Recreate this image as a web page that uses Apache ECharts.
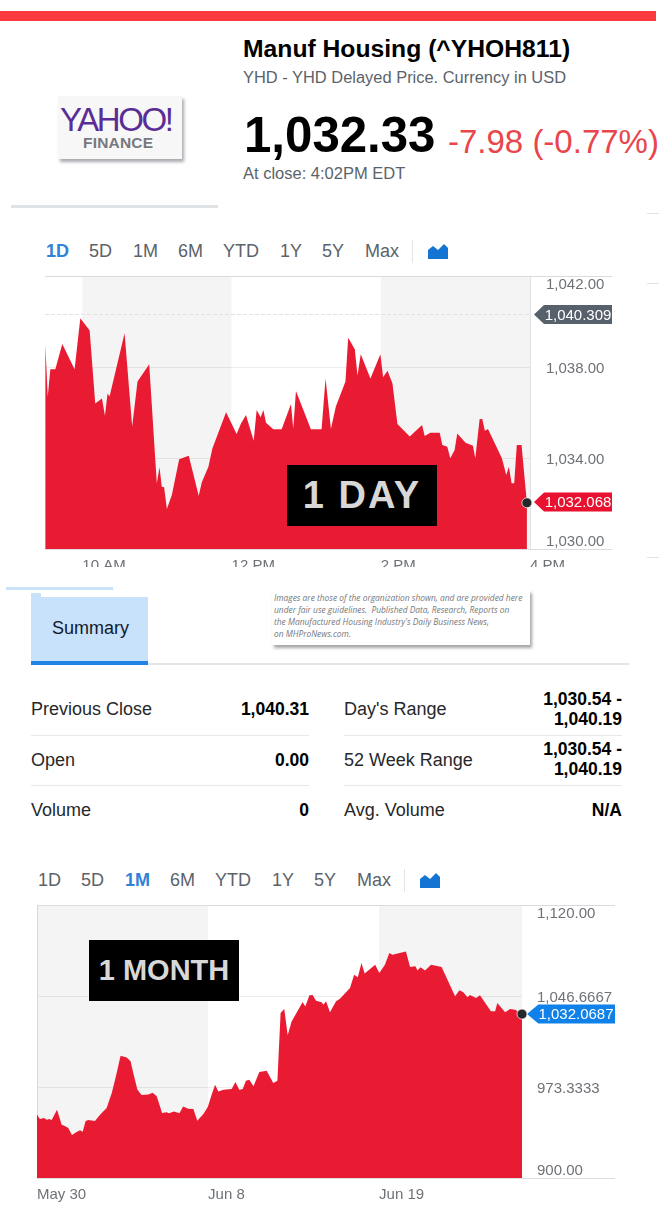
<!DOCTYPE html>
<html>
<head>
<meta charset="utf-8">
<title>Manuf Housing</title>
<script src="https://cdn.jsdelivr.net/npm/echarts@6/dist/echarts.min.js"></script>
<style>
html,body{margin:0;padding:0;background:#fff;}
body{width:659px;height:1218px;position:relative;overflow:hidden;font-family:"Liberation Sans",Arial,sans-serif;}
.t{position:absolute;white-space:nowrap;line-height:1;}
.box{position:absolute;}
.grey{color:#5b636a;}
.tab{position:absolute;font-size:18px;color:#5b636a;line-height:1;}
.tab.on{color:#2f82d6;font-weight:bold;}
.lab{position:absolute;font-size:18px;color:#26282a;line-height:1;white-space:nowrap;}
.val{position:absolute;font-size:17.5px;font-weight:bold;color:#000;line-height:20px;text-align:right;white-space:nowrap;}
.stamp{position:absolute;width:150px;height:61px;background:#000;color:#d8d8d8;font-family:"Liberation Sans",sans-serif;font-weight:bold;text-align:center;line-height:61px;z-index:5;white-space:nowrap;}
#chartDay,#chartMonth{position:absolute;left:0;width:659px;}
</style>
</head>
<body>

<div class="box" style="left:0;top:11px;width:656px;height:10px;background:#fb3a40;"></div>

<!-- logo -->
<div class="box" style="left:58px;top:96px;width:124px;height:63px;background:#f7f7f8;box-shadow:2px 3px 3px #a9a9b0;"></div>
<div class="t" style="left:60px;top:103px;font-size:33px;letter-spacing:-2.4px;color:#5a2d96;">YAHOO!</div>
<div class="t" style="left:83px;top:135px;font-size:15.5px;letter-spacing:.2px;font-weight:bold;color:#77787e;">FINANCE</div>
<div class="box" style="left:11px;top:205px;width:207px;height:3px;background:#e0e3e6;"></div>
<div class="box" style="left:647px;top:213px;width:12px;height:1px;background:#e3e3e3;"></div>
<div class="box" style="left:647px;top:283px;width:12px;height:1px;background:#e3e3e3;"></div>
<div class="box" style="left:647px;top:557px;width:12px;height:1px;background:#e3e3e3;"></div>

<div class="t" style="left:243px;top:37px;font-size:24.7px;font-weight:bold;color:#000;">Manuf Housing (^YHOH811)</div>
<div class="t grey" style="left:243px;top:69px;font-size:16.45px;">YHD - YHD Delayed Price. Currency in USD</div>
<div class="t" style="left:244px;top:110px;font-size:49.2px;font-weight:bold;color:#000;">1,032.33</div>
<div class="t" style="left:448px;top:125px;font-size:33px;color:#e8464c;">-7.98 (-0.77%)</div>
<div class="t grey" style="left:243px;top:165px;font-size:16.5px;">At close: 4:02PM EDT</div>

<!-- range tabs, day chart -->
<div class="tab on" style="left:46px;top:242px;">1D</div>
<div class="tab" style="left:89px;top:242px;">5D</div>
<div class="tab" style="left:133px;top:242px;">1M</div>
<div class="tab" style="left:178px;top:242px;">6M</div>
<div class="tab" style="left:223px;top:242px;">YTD</div>
<div class="tab" style="left:280px;top:242px;">1Y</div>
<div class="tab" style="left:322px;top:242px;">5Y</div>
<div class="tab" style="left:365px;top:242px;">Max</div>
<div class="box" style="left:412px;top:240px;width:1px;height:23px;background:#e3e5e8;"></div>
<svg class="box" style="left:428px;top:244px;" width="20" height="15"><path d="M0 15V6L5 2L10 6L16 0L20 4V15Z" fill="#1474d4"/></svg>

<div id="chartDay" style="top:270px;height:297px;"></div>
<div class="stamp" style="left:287px;top:465px;font-size:38px;letter-spacing:2px;">1 DAY</div>

<!-- summary tab and note -->
<div class="box" style="left:6px;top:587px;width:107px;height:3px;background:#c9e2f7;"></div>
<div class="box" style="left:31px;top:593px;width:10px;height:4px;background:#c8e2fc;"></div>
<div class="box" style="left:31px;top:597px;width:117px;height:64px;background:#c8e2fc;"></div>
<div class="box" style="left:31px;top:661px;width:117px;height:4px;background:#1f84e6;"></div>
<div class="box" style="left:148px;top:663px;width:481px;height:2px;background:#e4e7ea;"></div>
<div class="lab" style="left:52px;top:619px;color:#111a2b;">Summary</div>

<div class="box" style="left:272px;top:590px;width:258px;height:55px;background:#fff;box-shadow:2px 3px 3px #a5a5a5;"></div>
<div class="t" style="left:274px;top:592px;font-size:8.4px;font-style:italic;line-height:12px;color:#77777a;font-family:'Open Sans',sans-serif;">Images are those of the organization shown, and are provided here<br>under fair use guidelines.&nbsp; Published Data, Research, Reports on<br>the Manufactured Housing Industry's Daily Business News,<br>on MHProNews.com.</div>

<!-- stats table -->
<div class="lab" style="left:31px;top:700px;">Previous Close</div>
<div class="val" style="right:350px;top:699px;">1,040.31</div>
<div class="box" style="left:31px;top:735px;width:278px;height:1px;background:#e6e8ea;"></div>
<div class="lab" style="left:31px;top:751px;">Open</div>
<div class="val" style="right:350px;top:750px;">0.00</div>
<div class="box" style="left:31px;top:785px;width:278px;height:1px;background:#e6e8ea;"></div>
<div class="lab" style="left:31px;top:801px;">Volume</div>
<div class="val" style="right:350px;top:800px;">0</div>

<div class="lab" style="left:344px;top:700px;">Day's Range</div>
<div class="val" style="right:37px;top:689px;">1,030.54 -<br>1,040.19</div>
<div class="box" style="left:344px;top:735px;width:278px;height:1px;background:#e6e8ea;"></div>
<div class="lab" style="left:344px;top:751px;">52 Week Range</div>
<div class="val" style="right:37px;top:739px;">1,030.54 -<br>1,040.19</div>
<div class="box" style="left:344px;top:785px;width:278px;height:1px;background:#e6e8ea;"></div>
<div class="lab" style="left:344px;top:801px;">Avg. Volume</div>
<div class="val" style="right:37px;top:800px;">N/A</div>

<!-- range tabs, month chart -->
<div class="tab" style="left:38px;top:871px;">1D</div>
<div class="tab" style="left:81px;top:871px;">5D</div>
<div class="tab on" style="left:125px;top:871px;">1M</div>
<div class="tab" style="left:170px;top:871px;">6M</div>
<div class="tab" style="left:215px;top:871px;">YTD</div>
<div class="tab" style="left:272px;top:871px;">1Y</div>
<div class="tab" style="left:314px;top:871px;">5Y</div>
<div class="tab" style="left:357px;top:871px;">Max</div>
<div class="box" style="left:404px;top:869px;width:1px;height:23px;background:#e3e5e8;"></div>
<svg class="box" style="left:420px;top:873px;" width="20" height="15"><path d="M0 15V6L5 2L10 6L16 0L20 4V15Z" fill="#1474d4"/></svg>

<div id="chartMonth" style="top:899px;height:319px;"></div>
<div class="stamp" style="left:89px;top:940px;font-size:29px;letter-spacing:0;">1 MONTH</div>

<script>
// day chart: x is minutes since midnight
var dayMinutes = [570.3,572.2,574.3,578.3,583.9,593.8,598.4,605.9,610.4,615.8,618.2,620.3,621.9,634,640.1,644.4,653.8,659.9,662.1,663.9,665.8,668,672,677.9,685.6,693.6,696.1,701.4,704.6,715.6,724.1,727.6,731.6,737.8,740.2,743.4,745.6,747.7,753.6,760.3,767.8,769.6,771.8,783.8,792.4,795.6,799.9,803.9,811.6,813.8,819.1,821.3,823.9,831.7,839.7,841.9,845.4,849.4,853.4,863.3,873.2,875.3,879.9,887.4,889.5,893.5,895.9,899.4,901.5,908.2,914.1,916,919.5,921.6,923.7,926.2,937.4,940.9,943,945.2,947.3,949.4,953.2,957.5];
var dayValues = [1038.97,1036.70,1037.90,1037.90,1039.01,1037.90,1040.14,1039.60,1036.40,1036.62,1035.86,1036.84,1036.70,1039.48,1035.38,1037.36,1038.12,1032.89,1033.59,1032.74,1032.71,1031.76,1032.37,1033.94,1034.10,1032.34,1032.93,1033.62,1034.42,1036.01,1035.05,1035.52,1035.89,1034.76,1036.11,1035.79,1036.11,1035.55,1035.26,1035.26,1036.37,1035.30,1036.95,1035.26,1035.26,1037.50,1035.29,1036.26,1037.36,1039.29,1038.78,1037.63,1038.56,1037.50,1038.56,1037.55,1037.84,1037.28,1035.49,1034.94,1035.45,1034.97,1035.11,1035.11,1034.57,1034.50,1033.99,1034.35,1035.08,1034.67,1034.54,1033.99,1035.71,1035.71,1035.20,1035.27,1033.99,1033.25,1033.62,1032.89,1032.89,1034.57,1034.57,1032.03];
var dayXTicks = [600,720,840,960];
var dayXLabels = ['10 AM','12 PM','2 PM','4 PM'];
var dayYTicks = [1030,1034,1038,1042];
var dayYLabels = ['1,030.00','1,034.00','1,038.00','1,042.00'];
var dayBands = [[600,720],[840,960]];
var dayPrevClose = 1040.309;
var dayLast = 1032.068;

// month chart: x is trading days since May 30
var monthDays = [0,.12,.29,.4,.5,.6,.82,1.01,1.12,1.28,1.43,1.62,1.76,1.87,1.99,2.1,2.37,2.58,2.85,3.06,3.23,3.42,3.67,3.83,3.94,4.11,4.28,4.56,4.73,4.9,5.12,5.31,5.4,5.61,5.83,5.98,6.19,6.4,6.56,6.81,6.99,7.15,7.29,7.42,7.63,7.97,8.12,8.28,8.42,8.55,8.69,8.86,9.1,9.4,9.67,9.84,9.97,10.12,10.26,10.42,10.77,10.87,10.98,11.15,11.28,11.42,11.65,11.72,11.83,11.99,12.24,12.4,12.81,12.98,13.13,13.28,13.41,13.84,14.01,14.24,14.42,14.55,15.1,15.27,15.49,15.57,15.7,15.88,16.13,16.56,17.11,17.29,17.45,17.62,17.72,17.97,18.13,18.58,18.75,18.84,19.16,19.36,19.57,19.85];
var monthValues = [951,947.5,948.3,947,947.5,946.7,955.1,943,942.2,940.3,934.6,937.1,938.4,937.3,945.9,946.7,945.9,951,956.4,968.5,981.9,998.6,997.2,994,984.6,971.2,966.9,967.2,968.8,965.8,952.4,952.9,952.1,953.5,952.1,957.7,955.9,955.6,946.2,951.6,957.2,967.2,975.2,969.8,971.2,971.7,977.4,971.2,971.7,978.4,979.2,973.9,985.4,986.5,976.6,978.4,1033,1036.2,1015,1026.2,1038.3,1041.8,1038.3,1047.2,1047.5,1042.9,1041.6,1039.7,1042.4,1033.5,1042.4,1044.5,1053.1,1063.8,1061.7,1073.2,1064.7,1071.9,1065.2,1071.9,1081.3,1080,1082.6,1070,1070.6,1067.3,1069.8,1067.3,1071.9,1070,1046.4,1051.2,1049.6,1045.6,1047.5,1045,1047.2,1034.3,1034.3,1041,1033.5,1036.2,1035.6,1032.07];
var monthXTicks = [0,7,14];
var monthXLabels = ['May 30','Jun 8','Jun 19'];
var monthYTicks = [900,973.3333,1046.6667,1120];
var monthYLabels = ['900.00','973.3333','1,046.6667','1,120.00'];
var monthBands = [[0,7],[14,19.85]];
var monthLast = 1032.0687;

function zipPoints(xs, ys) {
  return xs.map(function (x, i) { return [x, ys[i]]; });
}

function priceTag(x, y, text, color, width, dx) {
  return {
    coord: [x, y],
    symbol: 'path://M0,9 L10,0 L78,0 L78,18 L10,18 Z',
    symbolSize: [width, 19],
    symbolOffset: [dx, 0],
    itemStyle: { color: color },
    label: {
      show: true, position: 'inside', formatter: text, offset: [5, 1],
      color: '#fff', fontSize: 15, fontFamily: 'Liberation Sans'
    }
  };
}

function yLabelStyle(color, padding) {
  return { color: color, fontSize: 15, fontFamily: 'Liberation Sans', padding: padding };
}

function buildOption(cfg) {
  var labelColor = '#6e7276';
  var bottom = cfg.top + 273;
  return {
    animation: false,
    grid: { left: cfg.left, top: cfg.top, width: 485, height: 273, outerBoundsMode: 'none' },
    xAxis: {
      type: 'value', min: cfg.xMin, max: cfg.xMax,
      splitLine: { show: false },
      axisLine: { show: false },
      axisTick: { show: false, customValues: cfg.xTicks },
      axisLabel: {
        customValues: cfg.xTicks, align: 'left', margin: cfg.xMargin,
        color: labelColor, fontSize: 15, fontFamily: 'Liberation Sans',
        showMinLabel: true, showMaxLabel: true,
        formatter: function (v) { return cfg.xLabels[cfg.xTicks.indexOf(v)]; }
      }
    },
    yAxis: {
      type: 'value', position: 'right', min: cfg.yTicks[0], max: cfg.yTicks[3], scale: true,
      axisLine: { show: true, lineStyle: { color: '#dfe1e6', width: 1 } },
      axisTick: { show: false, customValues: cfg.yTicks },
      splitLine: { show: true, lineStyle: { color: 'rgba(0,0,0,0.07)', width: 1 } },
      axisLabel: {
        customValues: cfg.yTicks, margin: cfg.yMargin, verticalAlign: 'middle',
        color: labelColor, fontSize: 15, fontFamily: 'Liberation Sans',
        // the edge labels sit inside the plot, the middle ones just under their line
        rich: {
          low: yLabelStyle(labelColor, [0, 0, 14, 0]),
          mid: yLabelStyle(labelColor, [cfg.midPad, 0, 0, 0]),
          high: yLabelStyle(labelColor, [18, 0, 0, 0])
        },
        formatter: function (v) {
          var i = cfg.yTicks.indexOf(v);
          var name = i === 0 ? 'low' : (i === 3 ? 'high' : 'mid');
          return '{' + name + '|' + cfg.yLabels[i] + '}';
        }
      }
    },
    graphic: [
      { type: 'line', silent: true, z: 10, shape: { x1: cfg.left, y1: cfg.top + 0.5, x2: cfg.lineEnd, y2: cfg.top + 0.5 }, style: { stroke: '#d9dbde', lineWidth: 1 } },
      { type: 'line', silent: true, z: 10, shape: { x1: cfg.left, y1: bottom + 0.5, x2: cfg.lineEnd, y2: bottom + 0.5 }, style: { stroke: '#dcdde0', lineWidth: 1 } }
    ],
    series: [
      {
        // bands and the previous close sit under the red area
        type: 'line', z: 1, silent: true, data: [], showSymbol: false,
        markArea: {
          silent: true,
          itemStyle: { color: 'rgba(0,0,10,0.045)' },
          data: cfg.bands.map(function (b) { return [{ xAxis: b[0] }, { xAxis: b[1] }]; })
        },
        markLine: cfg.prevClose ? {
          silent: true, symbol: 'none', label: { show: false },
          lineStyle: { color: '#e2e2e2', type: 'dashed', width: 1 },
          data: [{ yAxis: cfg.prevClose }]
        } : undefined
      },
      {
        type: 'line', z: 2, silent: true, data: cfg.points, showSymbol: false,
        lineStyle: { width: 0 },
        areaStyle: { color: '#e8122b', opacity: 0.96 },
        markPoint: {
          silent: true,
          data: cfg.tags.concat([{
            coord: cfg.points[cfg.points.length - 1],
            symbol: 'circle', symbolSize: 10,
            itemStyle: { color: '#25282b', borderColor: 'rgba(255,255,255,0.7)', borderWidth: 1 },
            label: { show: false }
          }])
        }
      }
    ]
  };
}

var dayChart = echarts.init(document.getElementById('chartDay'));
dayChart.setOption(buildOption({
  left: 45, top: 6, lineEnd: 612, xMin: 570, xMax: 960, xMargin: 9, yMargin: 16, midPad: 4,
  xTicks: dayXTicks, xLabels: dayXLabels, yTicks: dayYTicks, yLabels: dayYLabels,
  bands: dayBands, prevClose: dayPrevClose,
  points: zipPoints(dayMinutes, dayValues),
  tags: [
    priceTag(960, dayPrevClose, '1,040.309', '#56616b', 78, 43),
    priceTag(960, dayLast, '1,032.068', '#e8112f', 78, 43)
  ]
}));

var monthChart = echarts.init(document.getElementById('chartMonth'));
monthChart.setOption(buildOption({
  left: 37, top: 6, lineEnd: 615, xMin: 0, xMax: 19.85, xMargin: 9, yMargin: 15, midPad: 4,
  xTicks: monthXTicks, xLabels: monthXLabels, yTicks: monthYTicks, yLabels: monthYLabels,
  bands: monthBands, prevClose: null,
  points: zipPoints(monthDays, monthValues),
  tags: [
    priceTag(19.85, monthLast, '1,032.0687', '#0f81e8', 88, 49)
  ]
}));
</script>
</body>
</html>
